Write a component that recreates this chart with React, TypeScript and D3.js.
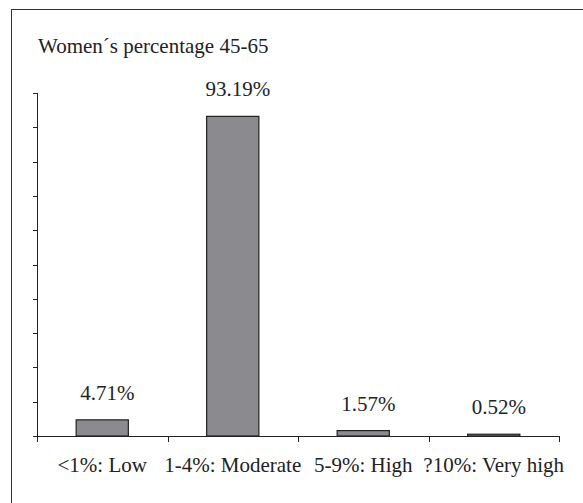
import * as d3 from 'd3';
import React from 'react';

const title = 'Women\u00b4s percentage 45-65';
const categories = ['<1%: Low', '1-4%: Moderate', '5-9%: High', '?10%: Very high'];
const values = [4.71, 93.19, 1.57, 0.52];
const valueLabels = ['4.71%', '93.19%', '1.57%', '0.52%'];
const yTicks = [0, 10, 20, 30, 40, 50, 60, 70, 80, 90, 100];

const width = 583;
const height = 503;
const axisLeft = 37;
const axisRight = 559;
const axisBottom = 436;
const axisTop = 93;
const ink = '#222';
const textStyle = { fontFamily: 'Liberation Serif', fontSize: 21 };

export default function App() {
  const x = d3.scaleBand<string>()
    .domain(categories)
    .range([axisLeft, axisRight])
    .padding(0);

  const y = d3.scaleLinear()
    .domain([0, 100])
    .range([axisBottom, axisTop]);

  const bw = x.bandwidth();
  const barW = bw * 0.4;
  const bounds = [...categories.map(c => x(c) as number), axisRight];

  return (
    <svg
      width={width}
      height={height}
      viewBox={`0 0 ${width} ${height}`}
      style={{ position: 'absolute', left: 0, top: 0, background: '#fff' }}
    >
      {/* outer frame, cut off at the right and bottom */}
      <rect x={11.5} y={9.5} width={620} height={620} fill="none" stroke="#333" />

      <text x={38} y={53} style={textStyle} fill={ink}>{title}</text>

      {/* y axis */}
      <line x1={axisLeft + 0.5} x2={axisLeft + 0.5} y1={y(100)} y2={axisBottom + 1} stroke={ink} />
      {yTicks.map(t => (
        <line key={t} x1={axisLeft - 4} x2={axisLeft + 0.5} y1={Math.round(y(t)) + 0.5} y2={Math.round(y(t)) + 0.5} stroke={ink} />
      ))}

      {/* bars */}
      {values.map((v, i) => (
        <rect
          key={categories[i]}
          x={(x(categories[i]) as number) + (bw - barW) / 2}
          y={y(v)}
          width={barW}
          height={axisBottom - y(v)}
          fill="#8b8b8f"
          stroke="#222"
          strokeWidth={1.2}
        />
      ))}

      {/* x axis */}
      <line x1={axisLeft} x2={axisRight + 0.5} y1={axisBottom + 0.5} y2={axisBottom + 0.5} stroke={ink} />
      {bounds.map((b, i) => (
        <line key={i} x1={Math.round(b) + 0.5} x2={Math.round(b) + 0.5} y1={axisBottom} y2={axisBottom + 6} stroke={ink} />
      ))}

      {/* value labels */}
      {values.map((v, i) => (
        <text
          key={valueLabels[i]}
          x={(x(categories[i]) as number) + bw / 2 + 5}
          y={y(v) - 20}
          textAnchor="middle"
          style={textStyle}
          fill={ink}
        >
          {valueLabels[i]}
        </text>
      ))}

      {/* category labels */}
      {categories.map(c => (
        <text key={c} x={(x(c) as number) + bw / 2} y={472} textAnchor="middle" style={textStyle} fill={ink}>
          {c}
        </text>
      ))}
    </svg>
  );
}
